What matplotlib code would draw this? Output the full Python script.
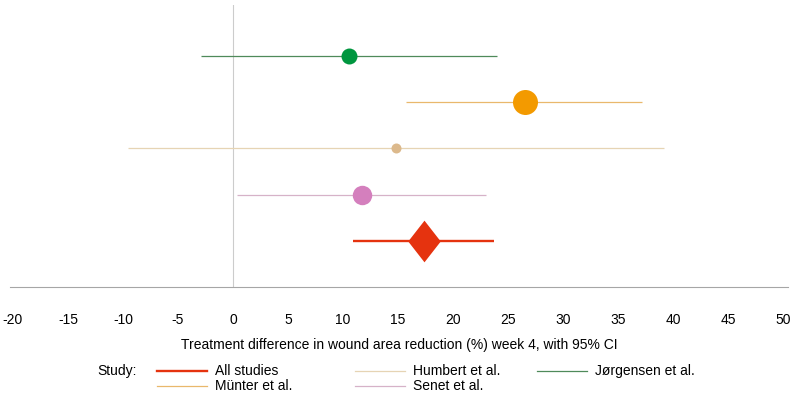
import matplotlib
matplotlib.use('Agg')
import matplotlib.pyplot as plt
from matplotlib.path import Path
from matplotlib.lines import Line2D

plt.rcParams['font.family'] = ['Liberation Sans', 'DejaVu Sans']

# Forest plot data (top to bottom)
studies = ['Jørgensen et al.', 'Münter et al.', 'Humbert et al.', 'Senet et al.', 'All studies']
estimate = [10.5, 26.5, 14.8, 11.7, 17.4]
ci_low = [-2.9, 15.7, -9.5, 0.4, 10.9]
ci_high = [24.0, 37.2, 39.2, 23.0, 23.7]
xticks = list(range(-20, 55, 5))

marker_colors = ['#00963f', '#f39a00', '#dcb98c', '#d47fbd', '#e5330f']
line_colors = ['#4f8a5a', '#e9b86c', '#e6d4b4', '#d6b2c8', '#e5330f']
msizes = [11.5, 18, 7.2, 14, 30]
lwidths = [0.9, 0.9, 0.9, 0.9, 1.7]

diamond = Path([(0, 1), (0.78, 0), (0, -1), (-0.78, 0), (0, 1)],
               [Path.MOVETO, Path.LINETO, Path.LINETO, Path.LINETO, Path.CLOSEPOLY])

fig = plt.figure(figsize=(7.95, 3.94), dpi=100)
ax = fig.add_axes([10 / 795, 107 / 394, 778 / 795, 282 / 394])

n = len(studies)
for i, name in enumerate(studies):
    y = n - i
    ax.plot([ci_low[i], ci_high[i]], [y, y], color=line_colors[i], lw=lwidths[i],
            solid_capstyle='butt')
    marker = diamond if name == 'All studies' else 'o'
    ax.plot(estimate[i], y, marker=marker, ms=msizes[i], color=marker_colors[i],
            mec='none', ls='none')

ax.axvline(0, color='#cccccc', lw=0.8, zorder=0)
ax.set_xlim(-20.27, 50.45)
ax.set_ylim(0, 6.1)
ax.set_yticks([])
ax.set_xticks(xticks)
ax.set_xticklabels([str(t) for t in xticks])
ax.tick_params(axis='x', length=0, pad=19, labelsize=10, colors='#000000')
for s in ['top', 'right', 'left']:
    ax.spines[s].set_visible(False)
ax.spines['bottom'].set_color('#a6a6a6')
ax.spines['bottom'].set_linewidth(0.8)
ax.set_xlabel('Treatment difference in wound area reduction (%) week 4, with 95% CI',
              fontsize=10, labelpad=8)

# legend drawn by hand: columns at fixed pixel positions
legend_order = ['All studies', 'Münter et al.', 'Humbert et al.', 'Senet et al.', 'Jørgensen et al.']
col_x = [157, 157, 355, 355, 537]
row_y = [371, 386, 371, 386, 371]
fig.text(97 / 795, 1 - 371 / 394, 'Study:', fontsize=10, va='center')
for name, lx, ly in zip(legend_order, col_x, row_y):
    i = studies.index(name)
    yf = 1 - ly / 394
    fig.add_artist(Line2D([lx / 795, (lx + 50) / 795], [yf, yf], transform=fig.transFigure,
                          color=line_colors[i], lw=lwidths[i]))
    fig.text((lx + 58) / 795, yf, name, fontsize=10, va='center')

fig.savefig('out.png', dpi=100)
